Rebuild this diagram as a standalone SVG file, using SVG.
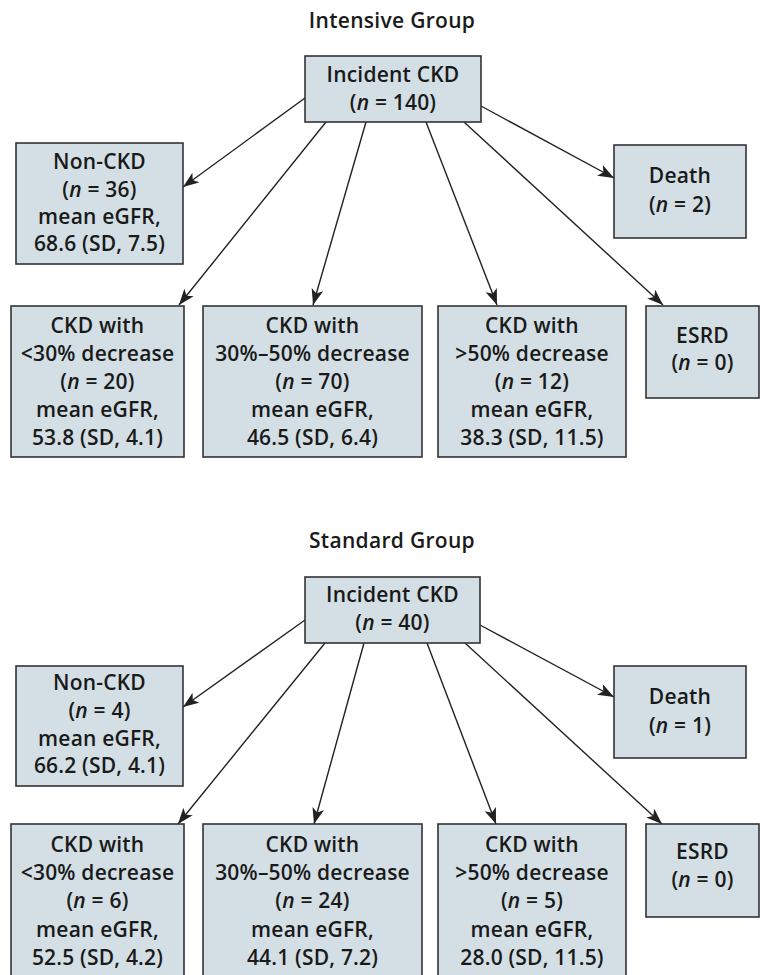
<svg xmlns="http://www.w3.org/2000/svg" width="763" height="975" viewBox="0 0 763 975">
<style>
.bg{fill:#ffffff}
.box{fill:#d3dfe4;stroke:#333;stroke-width:1.6}
.t{font-family:"Open Sans","Noto Sans","DejaVu Sans",sans-serif;font-size:21px;font-weight:600;fill:#1a1a1a;text-anchor:middle;letter-spacing:0.2px}
.title{font-family:"Open Sans","Noto Sans","DejaVu Sans",sans-serif;font-size:21px;font-weight:600;fill:#1a1a1a;text-anchor:middle;letter-spacing:0.3px}
.i{font-style:italic}
.c{stroke:#222;stroke-width:1.4;fill:none;marker-end:url(#ah)}
</style>
<defs>
<marker id="ah" markerUnits="userSpaceOnUse" markerWidth="18" markerHeight="14" refX="16" refY="6" orient="auto">
<path d="M0,0 L16,6 L0,12 L4,6 z" fill="#222"/>
</marker>
</defs>
<rect class="bg" x="0" y="0" width="763" height="975"/>

<text class="title" x="392" y="28">Intensive Group</text>

<g id="connectors-intensive">
<line class="c" x1="305" y1="98" x2="183" y2="187"/>
<line class="c" x1="481" y1="106" x2="614" y2="178"/>
<line class="c" x1="326" y1="122" x2="179" y2="305"/>
<line class="c" x1="366" y1="122" x2="313" y2="305"/>
<line class="c" x1="426" y1="122" x2="497" y2="305"/>
<line class="c" x1="464" y1="122" x2="663" y2="305"/>
</g>

<g id="i-top">
<rect class="box" x="305" y="56" width="176" height="66"/>
<text class="t" x="393" y="82">Incident CKD</text>
<text class="t" x="393" y="110">(<tspan class="i">n</tspan> = 140)</text>
</g>
<g id="i-noncdk">
<rect class="box" x="16" y="143" width="167" height="121"/>
<text class="t" x="99.5" y="169">Non-CKD</text>
<text class="t" x="99.5" y="197">(<tspan class="i">n</tspan> = 36)</text>
<text class="t" x="99.5" y="224">mean eGFR,</text>
<text class="t" x="99.5" y="251">68.6 (SD, 7.5)</text>
</g>
<g id="i-death">
<rect class="box" x="614" y="145" width="132" height="93"/>
<text class="t" x="680" y="183">Death</text>
<text class="t" x="680" y="212">(<tspan class="i">n</tspan> = 2)</text>
</g>
<g id="i-ckd30">
<rect class="box" x="11" y="306" width="173" height="151"/>
<text class="t" x="97.5" y="333">CKD with</text>
<text class="t" x="97.5" y="361">&lt;30% decrease</text>
<text class="t" x="97.5" y="389">(<tspan class="i">n</tspan> = 20)</text>
<text class="t" x="97.5" y="417">mean eGFR,</text>
<text class="t" x="97.5" y="445">53.8 (SD, 4.1)</text>
</g>
<g id="i-ckd3050">
<rect class="box" x="203" y="306" width="219" height="151"/>
<text class="t" x="312.5" y="333">CKD with</text>
<text class="t" x="312.5" y="361">30%–50% decrease</text>
<text class="t" x="312.5" y="389">(<tspan class="i">n</tspan> = 70)</text>
<text class="t" x="312.5" y="417">mean eGFR,</text>
<text class="t" x="312.5" y="445">46.5 (SD, 6.4)</text>
</g>
<g id="i-ckd50">
<rect class="box" x="438" y="306" width="188" height="151"/>
<text class="t" x="532" y="333">CKD with</text>
<text class="t" x="532" y="361">&gt;50% decrease</text>
<text class="t" x="532" y="389">(<tspan class="i">n</tspan> = 12)</text>
<text class="t" x="532" y="417">mean eGFR,</text>
<text class="t" x="532" y="445">38.3 (SD, 11.5)</text>
</g>
<g id="i-esrd">
<rect class="box" x="646" y="306" width="113" height="92"/>
<text class="t" x="702.5" y="343">ESRD</text>
<text class="t" x="702.5" y="370">(<tspan class="i">n</tspan> = 0)</text>
</g>

<text class="title" x="392" y="548">Standard Group</text>

<g id="connectors-standard">
<line class="c" x1="305" y1="620" x2="183" y2="707"/>
<line class="c" x1="480" y1="625" x2="614" y2="697"/>
<line class="c" x1="325" y1="643" x2="178" y2="824"/>
<line class="c" x1="364" y1="643" x2="314" y2="824"/>
<line class="c" x1="427" y1="643" x2="496" y2="824"/>
<line class="c" x1="465" y1="643" x2="662" y2="824"/>
</g>

<g id="s-top">
<rect class="box" x="305" y="577" width="175" height="66"/>
<text class="t" x="392.5" y="602">Incident CKD</text>
<text class="t" x="392.5" y="630">(<tspan class="i">n</tspan> = 40)</text>
</g>
<g id="s-noncdk">
<rect class="box" x="16" y="666" width="167" height="120"/>
<text class="t" x="99.5" y="690">Non-CKD</text>
<text class="t" x="99.5" y="718">(<tspan class="i">n</tspan> = 4)</text>
<text class="t" x="99.5" y="746">mean eGFR,</text>
<text class="t" x="99.5" y="773">66.2 (SD, 4.1)</text>
</g>
<g id="s-death">
<rect class="box" x="614" y="666" width="132" height="92"/>
<text class="t" x="680" y="704">Death</text>
<text class="t" x="680" y="733">(<tspan class="i">n</tspan> = 1)</text>
</g>
<g id="s-ckd30">
<rect class="box" x="11" y="824" width="173" height="160"/>
<text class="t" x="97.5" y="852">CKD with</text>
<text class="t" x="97.5" y="880">&lt;30% decrease</text>
<text class="t" x="97.5" y="908">(<tspan class="i">n</tspan> = 6)</text>
<text class="t" x="97.5" y="937">mean eGFR,</text>
<text class="t" x="97.5" y="965">52.5 (SD, 4.2)</text>
</g>
<g id="s-ckd3050">
<rect class="box" x="203" y="824" width="219" height="160"/>
<text class="t" x="312.5" y="852">CKD with</text>
<text class="t" x="312.5" y="880">30%–50% decrease</text>
<text class="t" x="312.5" y="908">(<tspan class="i">n</tspan> = 24)</text>
<text class="t" x="312.5" y="937">mean eGFR,</text>
<text class="t" x="312.5" y="965">44.1 (SD, 7.2)</text>
</g>
<g id="s-ckd50">
<rect class="box" x="438" y="824" width="188" height="160"/>
<text class="t" x="532" y="852">CKD with</text>
<text class="t" x="532" y="880">&gt;50% decrease</text>
<text class="t" x="532" y="908">(<tspan class="i">n</tspan> = 5)</text>
<text class="t" x="532" y="937">mean eGFR,</text>
<text class="t" x="532" y="965">28.0 (SD, 11.5)</text>
</g>
<g id="s-esrd">
<rect class="box" x="646" y="824" width="113" height="93"/>
<text class="t" x="702.5" y="859">ESRD</text>
<text class="t" x="702.5" y="887">(<tspan class="i">n</tspan> = 0)</text>
</g>
</svg>
